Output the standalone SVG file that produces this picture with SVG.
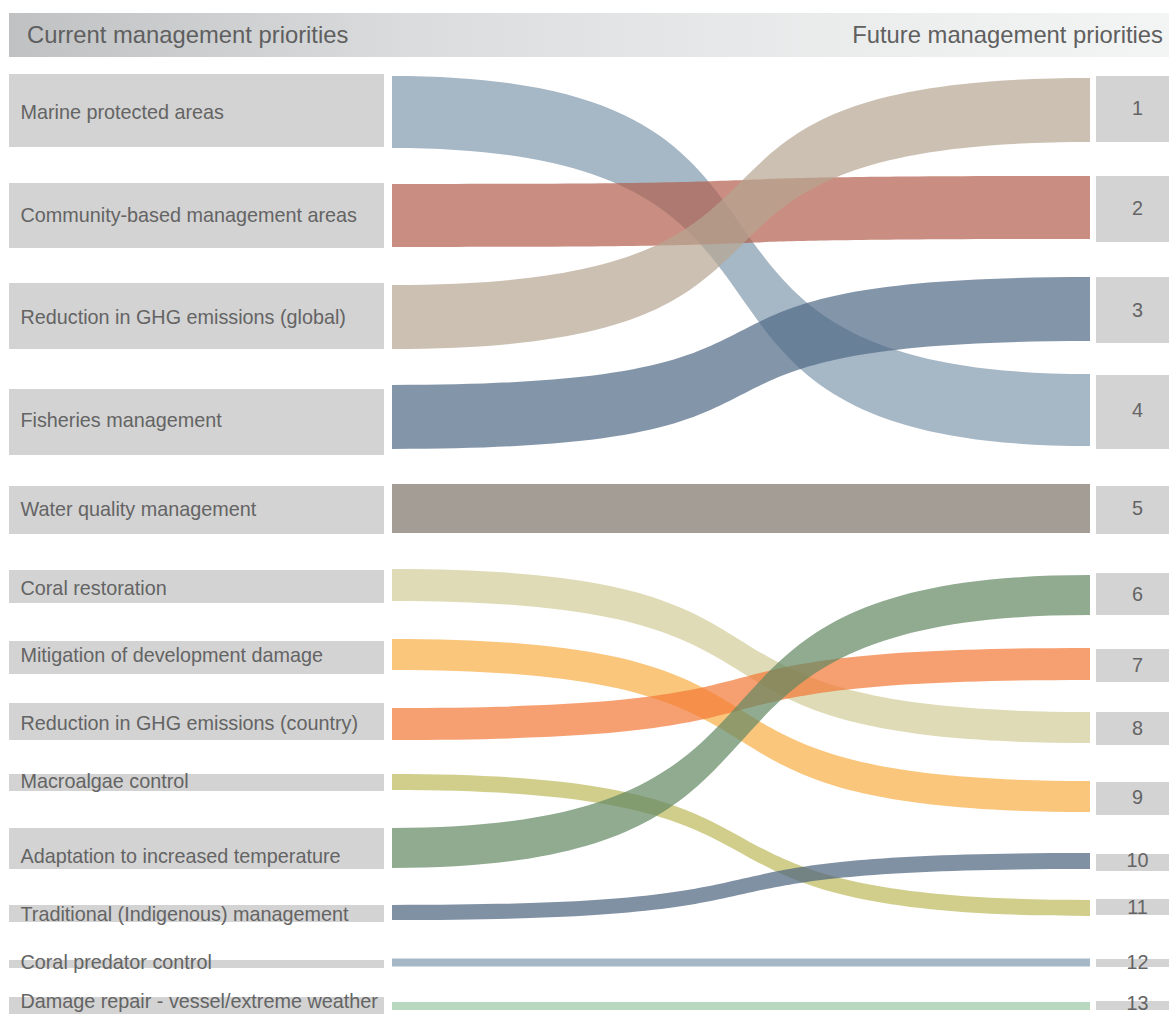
<svg xmlns="http://www.w3.org/2000/svg" width="1169" height="1014" viewBox="0 0 1169 1014">
<defs>
<linearGradient id="hdr" x1="9" y1="0" x2="1169" y2="0" gradientUnits="userSpaceOnUse">
<stop offset="0" stop-color="#bfc1c3"/>
<stop offset="0.35" stop-color="#dadcde"/>
<stop offset="0.75" stop-color="#eceeee"/>
<stop offset="1" stop-color="#f3f4f4"/>
</linearGradient>
<style>
.box{fill:#d3d3d3}
.lbl{font-family:"Liberation Sans",Arial,sans-serif;font-size:19.8px;fill:#646464}
.num{font-family:"Liberation Sans",Arial,sans-serif;font-size:19.8px;fill:#646464;text-anchor:middle}
.hd{font-family:"Liberation Sans",Arial,sans-serif;font-size:23.8px;fill:#5f5f5f}
.flow{fill-opacity:0.7;stroke:none}
</style>
</defs>
<rect width="1169" height="1014" fill="#ffffff"/>
<g id="header">
<rect x="9" y="13" width="1160" height="44" fill="url(#hdr)"/>
<text class="hd" x="27" y="42.5">Current management priorities</text>
<text class="hd" x="1163" y="42.5" text-anchor="end">Future management priorities</text>
</g>
<g id="connectors">
<path class="flow" fill="#8098ae" d="M392,76 C881,76 601,374 1090,374 L1090,446 C601,446 881,148 392,148 Z"/>
<path class="flow" fill="#b25e4c" d="M392,184 C881,184 601,176 1090,176 L1090,239 C601,239 881,247 392,247 Z"/>
<path class="flow" fill="#b6a592" d="M392,285 C881,285 601,78 1090,78 L1090,142 C601,142 881,349 392,349 Z"/>
<path class="flow" fill="#4e6884" d="M392,385 C881,385 601,277 1090,277 L1090,341 C601,341 881,449 392,449 Z"/>
<rect class="flow" fill="#7c736a" x="392" y="484" width="698" height="49"/>
<path class="flow" fill="#d1cc97" d="M392,569 C861,569 621,712 1090,712 L1090,743 C621,743 861,601 392,601 Z"/>
<path class="flow" fill="#f8ae44" d="M392,639 C861,639 621,781 1090,781 L1090,812 C621,812 861,670 392,670 Z"/>
<path class="flow" fill="#f27734" d="M392,708 C861,708 621,648 1090,648 L1090,680 C621,680 861,740 392,740 Z"/>
<path class="flow" fill="#bdb95b" d="M392,774 C861,774 621,900 1090,900 L1090,916 C621,916 861,790 392,790 Z"/>
<path class="flow" fill="#628862" d="M392,828 C861,828 621,575 1090,575 L1090,615 C621,615 861,868 392,868 Z"/>
<path class="flow" fill="#4b627e" d="M392,905 C861,905 621,853 1090,853 L1090,869 C621,869 861,920 392,920 Z"/>
<rect class="flow" fill="#8098ae" x="392" y="958.5" width="698" height="8"/>
<rect class="flow" fill="#9ac7a5" x="392" y="1002" width="698" height="8"/>
</g>
<g id="current-1"><rect class="box" x="9" y="74" width="375" height="73"/><text class="lbl" x="20.5" y="119">Marine protected areas</text></g>
<g id="current-2"><rect class="box" x="9" y="183" width="375" height="65"/><text class="lbl" x="20.5" y="221.5">Community-based management areas</text></g>
<g id="current-3"><rect class="box" x="9" y="283" width="375" height="66"/><text class="lbl" x="20.5" y="324">Reduction in GHG emissions (global)</text></g>
<g id="current-4"><rect class="box" x="9" y="389" width="375" height="66"/><text class="lbl" x="20.5" y="426.5">Fisheries management</text></g>
<g id="current-5"><rect class="box" x="9" y="486" width="375" height="48"/><text class="lbl" x="20.5" y="515.5">Water quality management</text></g>
<g id="current-6"><rect class="box" x="9" y="570" width="375" height="33"/><text class="lbl" x="20.5" y="594.5">Coral restoration</text></g>
<g id="current-7"><rect class="box" x="9" y="641" width="375" height="33"/><text class="lbl" x="20.5" y="662">Mitigation of development damage</text></g>
<g id="current-8"><rect class="box" x="9" y="703" width="375" height="37"/><text class="lbl" x="20.5" y="729.5">Reduction in GHG emissions (country)</text></g>
<g id="current-9"><rect class="box" x="9" y="774" width="375" height="17"/><text class="lbl" x="20.5" y="787.5">Macroalgae control</text></g>
<g id="current-10"><rect class="box" x="9" y="828" width="375" height="41"/><text class="lbl" x="20.5" y="862.5">Adaptation to increased temperature</text></g>
<g id="current-11"><rect class="box" x="9" y="905" width="375" height="17"/><text class="lbl" x="20.5" y="920.5">Traditional (Indigenous) management</text></g>
<g id="current-12"><rect class="box" x="9" y="960" width="375" height="8"/><text class="lbl" x="20.5" y="968.5">Coral predator control</text></g>
<g id="current-13"><rect class="box" x="9" y="997" width="375" height="17"/><text class="lbl" x="20.5" y="1007.5">Damage repair - vessel/extreme weather</text></g>
<g id="future-1"><rect class="box" x="1096" y="76" width="73" height="66"/><text class="num" x="1137.5" y="114.5">1</text></g>
<g id="future-2"><rect class="box" x="1096" y="176" width="73" height="66"/><text class="num" x="1137.5" y="214.5">2</text></g>
<g id="future-3"><rect class="box" x="1096" y="277" width="73" height="66"/><text class="num" x="1137.5" y="316.5">3</text></g>
<g id="future-4"><rect class="box" x="1096" y="375" width="73" height="74"/><text class="num" x="1137.5" y="417">4</text></g>
<g id="future-5"><rect class="box" x="1096" y="486" width="73" height="48"/><text class="num" x="1137.5" y="515">5</text></g>
<g id="future-6"><rect class="box" x="1096" y="573" width="73" height="42"/><text class="num" x="1137.5" y="600.5">6</text></g>
<g id="future-7"><rect class="box" x="1096" y="649" width="73" height="33"/><text class="num" x="1137.5" y="671.5">7</text></g>
<g id="future-8"><rect class="box" x="1096" y="712" width="73" height="33"/><text class="num" x="1137.5" y="734.5">8</text></g>
<g id="future-9"><rect class="box" x="1096" y="782" width="73" height="33"/><text class="num" x="1137.5" y="804">9</text></g>
<g id="future-10"><rect class="box" x="1096" y="854" width="73" height="17"/><text class="num" x="1137.5" y="867">10</text></g>
<g id="future-11"><rect class="box" x="1096" y="899" width="73" height="16"/><text class="num" x="1137.5" y="914">11</text></g>
<g id="future-12"><rect class="box" x="1096" y="959" width="73" height="8"/><text class="num" x="1137.5" y="968.5">12</text></g>
<g id="future-13"><rect class="box" x="1096" y="1001" width="73" height="9"/><text class="num" x="1137.5" y="1010">13</text></g>
</svg>
